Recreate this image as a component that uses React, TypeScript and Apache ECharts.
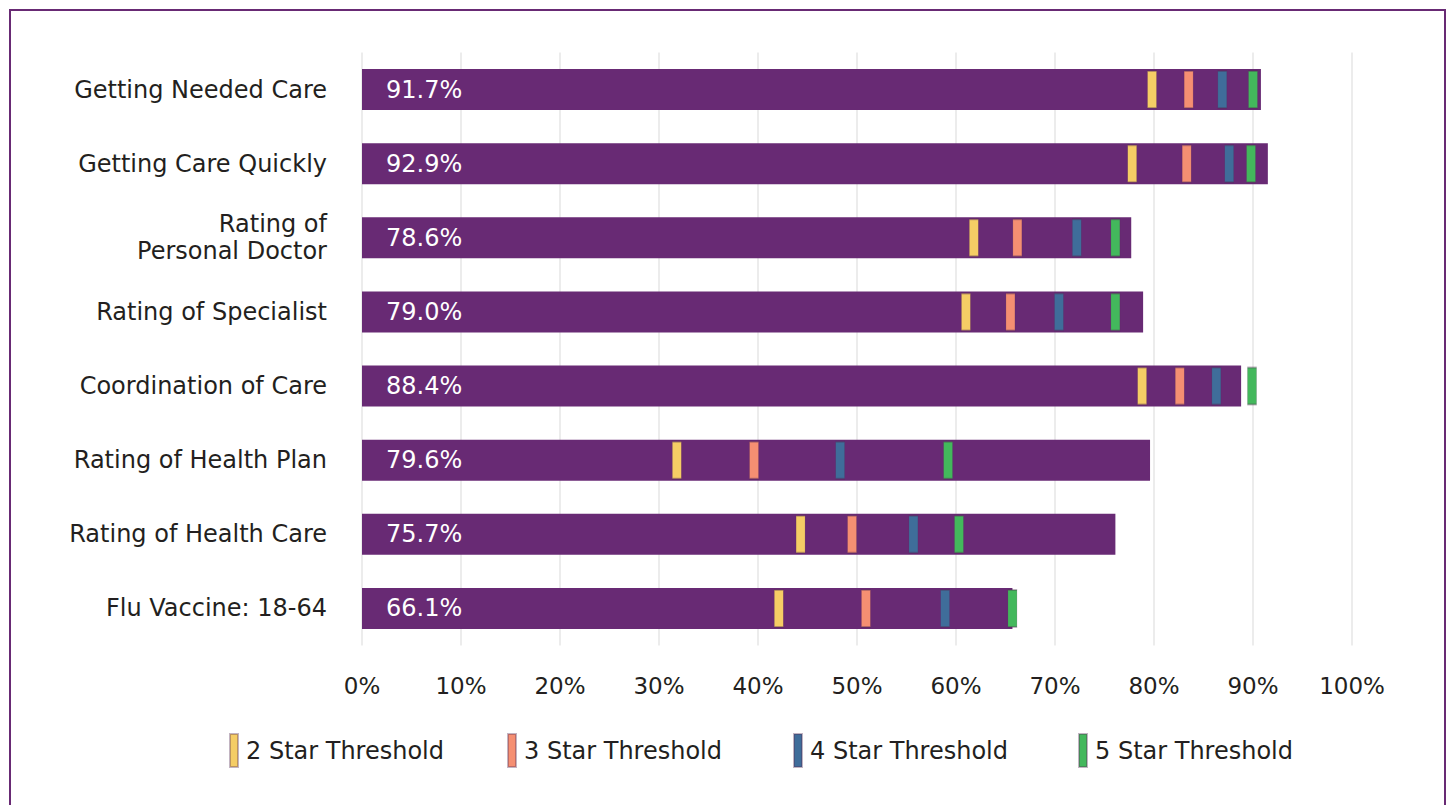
import React, { useEffect, useRef } from "react";
import * as echarts from "echarts";

const categories = [
  "Getting Needed Care",
  "Getting Care Quickly",
  "Rating of\nPersonal Doctor",
  "Rating of Specialist",
  "Coordination of Care",
  "Rating of Health Plan",
  "Rating of Health Care",
  "Flu Vaccine: 18-64",
];
const barValues = [90.8, 91.5, 77.7, 78.9, 88.8, 79.6, 76.1, 65.7];
const barLabels = ["91.7%", "92.9%", "78.6%", "79.0%", "88.4%", "79.6%", "75.7%", "66.1%"];
const star2 = [79.8, 77.8, 61.8, 61.0, 78.8, 31.8, 44.3, 42.1];
const star3 = [83.5, 83.3, 66.2, 65.5, 82.6, 39.6, 49.5, 50.9];
const star4 = [86.9, 87.6, 72.2, 70.4, 86.3, 48.3, 55.7, 58.9];
const star5 = [90.0, 89.8, 76.1, 76.1, 89.9, 59.2, 60.3, 65.7];
const thresholdNames = ["2 Star Threshold", "3 Star Threshold", "4 Star Threshold", "5 Star Threshold"];
const thresholdColors = ["#F5CD65", "#F58F72", "#3F6D9A", "#43B85C"];
const xTicks = [0, 10, 20, 30, 40, 50, 60, 70, 80, 90, 100];

const FONT = "'DejaVu Sans', 'Open Sans', sans-serif";
const PURPLE = "#682a74";
const TEXT = "#231f20";

export default function App() {
  const ref = useRef<HTMLDivElement>(null);
  useEffect(() => {
    if (!ref.current) return;
    const chart = echarts.init(ref.current, null, { renderer: "svg" });
    const thresholds = [star2, star3, star4, star5];
    const legendLefts = [229, 507, 793, 1078];
    chart.setOption({
      animation: false,
      textStyle: { fontFamily: FONT },
      grid: { left: 362, right: 96, top: 52.5, bottom: 159.5 },
      xAxis: {
        type: "value",
        min: xTicks[0],
        max: xTicks[xTicks.length - 1],
        interval: 10,
        axisLine: { show: false },
        axisTick: { show: false },
        splitLine: { show: true, lineStyle: { color: "#e6e6e6", width: 1.5 } },
        axisLabel: {
          formatter: (v: number) => v + "%",
          color: TEXT,
          fontSize: 23,
          fontFamily: FONT,
          margin: 29,
        },
      },
      yAxis: {
        type: "category",
        data: categories,
        inverse: true,
        axisLine: { show: false },
        axisTick: { show: false },
        axisLabel: {
          color: TEXT,
          fontSize: 24,
          fontFamily: FONT,
          margin: 35,
          lineHeight: 27,
          align: "right",
        },
      },
      legend: thresholdNames.map((n, i) => ({
        data: [n],
        left: legendLefts[i],
        top: 733,
        padding: 0,
        icon: "rect",
        itemWidth: 8,
        itemHeight: 33,
        itemGap: 0,
        textStyle: { fontSize: 24, color: TEXT, fontFamily: FONT, padding: [0, 0, 0, 3] },
      })),
      series: [
        {
          type: "bar",
          data: barValues,
          barWidth: 41,
          itemStyle: { color: PURPLE },
          z: 1,
          label: {
            show: true,
            position: "insideLeft",
            distance: 24,
            color: "#ffffff",
            fontSize: 24,
            fontFamily: FONT,
            formatter: (p: any) => barLabels[p.dataIndex],
          },
        },
        ...thresholds.map((arr, i) => ({
          type: "scatter",
          name: thresholdNames[i],
          data: arr.map((v, j) => [v, j]),
          symbol: "rect",
          symbolSize: [9, 37],
          itemStyle: {
            color: thresholdColors[i],
            borderColor: "rgba(80,40,80,0.35)",
            borderWidth: 1,
            opacity: 1,
          },
          z: 3,
        })),
      ],
      graphic: [
        {
          type: "rect",
          shape: { x: 10, y: 10, width: 1435, height: 840 },
          style: { fill: "none", stroke: PURPLE, lineWidth: 2 },
          silent: true,
        },
      ],
    });
    return () => chart.dispose();
  }, []);
  return (
    <div
      ref={ref}
      style={{ position: "fixed", left: 0, top: 0, width: 1448, height: 805, background: "#fff" }}
    />
  );
}
